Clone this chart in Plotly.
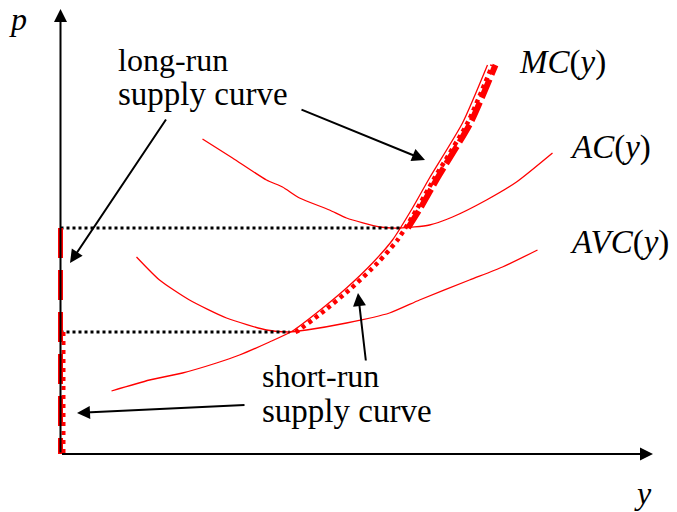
import numpy as np
import plotly.graph_objects as go

# ---- data (output y, price p) ----
MC_Y = [51, 89, 122, 156, 179, 209, 232, 256, 286, 312, 332, 352, 369, 402, 427]
MC_P = [63, 74, 81, 91, 99, 112, 123, 141, 166, 191, 214, 246, 276, 331, 389]

AC_Y = [142, 172, 206, 222, 239, 269, 286, 319, 339, 369, 392, 426, 456, 492]
AC_P = [315, 296, 274, 267, 256, 244, 236, 227, 226, 229, 237, 254, 272, 301]

AVC_Y = [76, 99, 129, 166, 206, 229, 246, 286, 329, 359, 409, 442, 477]
AVC_P = [197, 174, 154, 136, 124, 122, 124, 131, 141, 154, 174, 187, 204]

LABELS = {"mc": "<i>MC</i>(<i>y</i>)", "ac": "<i>AC</i>(<i>y</i>)", "avc": "<i>AVC</i>(<i>y</i>)"}

RED = "#ff0000"
FONT = "Liberation Serif"

ac_min_p = min(AC_P)
ac_min_y = AC_Y[int(np.argmin(AC_P))]
avc_min_p = min(AVC_P)
avc_min_y = AVC_Y[int(np.argmin(AVC_P))]


def mc_above(p0):
    y0 = float(np.interp(p0, MC_P, MC_Y))
    ys = [y0] + [y for y, p in zip(MC_Y, MC_P) if p > p0]
    ps = [p0] + [p for p in MC_P if p > p0]
    return np.array(ys), np.array(ps)


fig = go.Figure()

# cost curves
for xs, ys in [(MC_Y, MC_P), (AC_Y, AC_P), (AVC_Y, AVC_P)]:
    fig.add_trace(go.Scatter(x=xs, y=ys, mode="lines", line=dict(color=RED, width=1.3, shape="spline", smoothing=0.6),
                             hoverinfo="skip"))

# black dotted guide lines
for yy, pp in [(ac_min_y, ac_min_p), (avc_min_y, avc_min_p)]:
    fig.add_trace(go.Scatter(x=[0, yy], y=[pp, pp], mode="lines",
                             line=dict(color="black", width=3, dash="3px,3px"), hoverinfo="skip"))

# short-run supply curve (dotted)
sy, sp = mc_above(avc_min_p)
fig.add_trace(go.Scatter(x=[3, 3], y=[avc_min_p, 0], mode="lines",
                         line=dict(color=RED, width=4, dash="4px,5px"), hoverinfo="skip"))
fig.add_trace(go.Scatter(x=sy + 5, y=sp, mode="lines",
                         line=dict(color=RED, width=4.5, dash="4px,4px", shape="spline", smoothing=0.6),
                         hoverinfo="skip"))

# long-run supply curve (thick dashed)
ly, lp = mc_above(ac_min_p)
fig.add_trace(go.Scatter(x=[0, 0], y=[ac_min_p, 0], mode="lines",
                         line=dict(color=RED, width=5, dash="30px,12px"), hoverinfo="skip"))
fig.add_trace(go.Scatter(x=ly + 8, y=lp, mode="lines",
                         line=dict(color=RED, width=6, dash="20px,5px", shape="spline", smoothing=0.6),
                         hoverinfo="skip"))

ann = []
# axes as arrows
ann.append(dict(x=0, y=445, ax=0, ay=0, xref="x", yref="y", axref="x", ayref="y", showarrow=True,
                arrowhead=2, arrowsize=1.3, arrowwidth=2, arrowcolor="black", text="", standoff=0))
ann.append(dict(x=592.5, y=0, ax=0, ay=0, xref="x", yref="y", axref="x", ayref="y", showarrow=True,
                arrowhead=2, arrowsize=1.3, arrowwidth=2, arrowcolor="black", text="", standoff=0))

# pointer arrows
for (hx, hy, tx, ty) in [(9.5, 191, 106.5, 336), (364.5, 294, 239.5, 345),
                         (297.5, 161, 305.5, 92), (16.5, 41, 185.5, 49)]:
    ann.append(dict(x=hx, y=hy, ax=tx, ay=ty, xref="x", yref="y", axref="x", ayref="y", showarrow=True,
                    arrowhead=2, arrowsize=1.3, arrowwidth=2, arrowcolor="black", text="", standoff=0))

fs = 32
texts = [
    ("<i>p</i>", -42.5, 435, "center", fs),
    ("<i>y</i>", 582.5, -39, "center", fs),
    ("long-run", 56.5, 394, "left", fs),
    ("supply curve", 56.5, 360, "left", 33),
    ("short-run", 200.5, 78, "left", fs),
    ("supply curve", 200.5, 43, "left", 33),
    (LABELS["mc"], 457.5, 392, "left", 33),
    (LABELS["ac"], 508.5, 307, "left", 33),
    (LABELS["avc"], 508.5, 212, "left", 33),
]
for t, x, y, xa, s in texts:
    ann.append(dict(x=x, y=y, xref="x", yref="y", text=t, showarrow=False, xanchor=xa, yanchor="middle",
                    borderpad=0, font=dict(family=FONT, size=s, color="black")))

# page body has an 8px margin: the figure is sized and ranged so that it fills the window
fig.update_layout(
    width=669, height=504, autosize=False,
    margin=dict(l=0, r=0, t=0, b=0),
    paper_bgcolor="white", plot_bgcolor="white",
    showlegend=False,
    xaxis=dict(range=[-52.5, 616.5], visible=False, fixedrange=True),
    yaxis=dict(range=[-58, 446], visible=False, fixedrange=True),
    annotations=ann,
)

fig.write_html("out.html")
